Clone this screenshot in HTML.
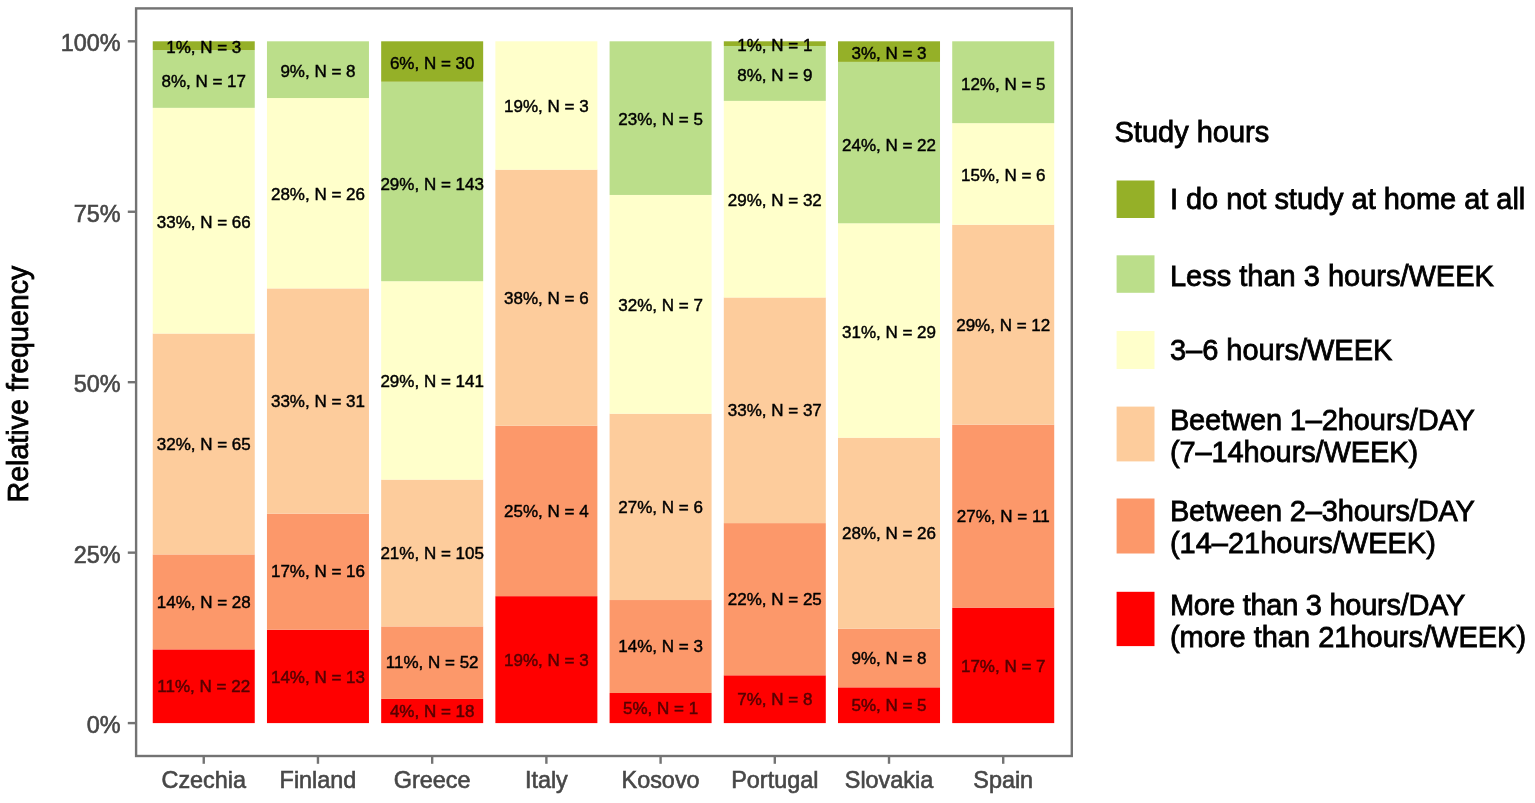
<!DOCTYPE html>
<html lang="en"><head><meta charset="utf-8"><title>Study hours</title>
<style>
html,body{margin:0;padding:0;background:#fff;}
body{width:1535px;height:803px;overflow:hidden;}
svg{display:block;font-family:"Liberation Sans", Arial, Helvetica, sans-serif;filter:blur(0.55px);}
.ax{font-size:23.4px;fill:#474747;stroke:#474747;stroke-width:0.6px;}
.ti{font-size:28.6px;fill:#000;stroke:#000;stroke-width:0.8px;}
.lb{font-size:17px;fill:#000;text-anchor:middle;stroke:#000;stroke-width:0.45px;filter:blur(0.55px);}
.lr{fill:#3a0000;stroke:#3a0000;stroke-width:0.5px;opacity:0.85;}
.lg{font-size:29.0px;fill:#000;stroke:#000;stroke-width:0.8px;}
</style></head><body>
<svg width="1535" height="803" viewBox="0 0 1535 803">
<rect width="1535" height="803" fill="#fff"/>
<rect x="152.75" y="649.38" width="102" height="73.72" fill="#FF0000"/>
<rect x="152.75" y="554.4" width="102" height="94.98" fill="#FC986A"/>
<rect x="152.75" y="333.52" width="102" height="220.88" fill="#FDCC9C"/>
<rect x="152.75" y="107.84" width="102" height="225.67" fill="#FFFFCB"/>
<rect x="152.75" y="50.08" width="102" height="57.76" fill="#BBDE8A"/>
<rect x="152.75" y="41.3" width="102" height="8.78" fill="#95B028"/>
<rect x="266.96" y="629.71" width="102" height="93.39" fill="#FF0000"/>
<rect x="266.96" y="513.66" width="102" height="116.05" fill="#FC986A"/>
<rect x="266.96" y="288.41" width="102" height="225.25" fill="#FDCC9C"/>
<rect x="266.96" y="98.03" width="102" height="190.38" fill="#FFFFCB"/>
<rect x="266.96" y="41.3" width="102" height="56.73" fill="#BBDE8A"/>
<rect x="381.17" y="698.9" width="102" height="24.2" fill="#FF0000"/>
<rect x="381.17" y="626.4" width="102" height="72.5" fill="#FC986A"/>
<rect x="381.17" y="479.6" width="102" height="146.8" fill="#FDCC9C"/>
<rect x="381.17" y="281.21" width="102" height="198.39" fill="#FFFFCB"/>
<rect x="381.17" y="81.73" width="102" height="199.48" fill="#BBDE8A"/>
<rect x="381.17" y="41.3" width="102" height="40.43" fill="#95B028"/>
<rect x="495.38" y="596.16" width="102" height="126.94" fill="#FF0000"/>
<rect x="495.38" y="425.71" width="102" height="170.45" fill="#FC986A"/>
<rect x="495.38" y="169.64" width="102" height="256.08" fill="#FDCC9C"/>
<rect x="495.38" y="41.3" width="102" height="128.34" fill="#FFFFCB"/>
<rect x="609.59" y="693.01" width="102" height="30.09" fill="#FF0000"/>
<rect x="609.59" y="600.04" width="102" height="92.97" fill="#FC986A"/>
<rect x="609.59" y="413.69" width="102" height="186.35" fill="#FDCC9C"/>
<rect x="609.59" y="194.95" width="102" height="218.74" fill="#FFFFCB"/>
<rect x="609.59" y="41.3" width="102" height="153.65" fill="#BBDE8A"/>
<rect x="723.8" y="675.3" width="102" height="47.8" fill="#FF0000"/>
<rect x="723.8" y="523.11" width="102" height="152.19" fill="#FC986A"/>
<rect x="723.8" y="297.47" width="102" height="225.64" fill="#FDCC9C"/>
<rect x="723.8" y="100.87" width="102" height="196.6" fill="#FFFFCB"/>
<rect x="723.8" y="45.99" width="102" height="54.89" fill="#BBDE8A"/>
<rect x="723.8" y="41.3" width="102" height="4.69" fill="#95B028"/>
<rect x="838.01" y="687.34" width="102" height="35.76" fill="#FF0000"/>
<rect x="838.01" y="628.69" width="102" height="58.65" fill="#FC986A"/>
<rect x="838.01" y="437.68" width="102" height="191.01" fill="#FDCC9C"/>
<rect x="838.01" y="223.28" width="102" height="214.4" fill="#FFFFCB"/>
<rect x="838.01" y="61.89" width="102" height="161.39" fill="#BBDE8A"/>
<rect x="838.01" y="41.3" width="102" height="20.59" fill="#95B028"/>
<rect x="952.22" y="607.6" width="102" height="115.5" fill="#FF0000"/>
<rect x="952.22" y="424.67" width="102" height="182.92" fill="#FC986A"/>
<rect x="952.22" y="224.72" width="102" height="199.95" fill="#FDCC9C"/>
<rect x="952.22" y="123.15" width="102" height="101.58" fill="#FFFFCB"/>
<rect x="952.22" y="41.3" width="102" height="81.85" fill="#BBDE8A"/>
<text class="lb lr" x="203.75" y="692.47">11%, N = 22</text>
<text class="lb" x="203.75" y="607.67">14%, N = 28</text>
<text class="lb" x="203.75" y="449.94">32%, N = 65</text>
<text class="lb" x="203.75" y="227.76">33%, N = 66</text>
<text class="lb" x="203.75" y="86.99">8%, N = 17</text>
<text class="lb" x="203.75" y="53.07">1%, N = 3</text>
<text class="lb lr" x="317.96" y="682.64">14%, N = 13</text>
<text class="lb" x="317.96" y="577.47">17%, N = 16</text>
<text class="lb" x="317.96" y="407.02">33%, N = 31</text>
<text class="lb" x="317.96" y="200.3">28%, N = 26</text>
<text class="lb" x="317.96" y="77">9%, N = 8</text>
<text class="lb lr" x="432.17" y="717.24">4%, N = 18</text>
<text class="lb" x="432.17" y="668.44">11%, N = 52</text>
<text class="lb" x="432.17" y="558.99">21%, N = 105</text>
<text class="lb" x="432.17" y="387.49">29%, N = 141</text>
<text class="lb" x="432.17" y="189.5">29%, N = 143</text>
<text class="lb" x="432.17" y="68.9">6%, N = 30</text>
<text class="lb lr" x="546.38" y="665.87">19%, N = 3</text>
<text class="lb" x="546.38" y="516.72">25%, N = 4</text>
<text class="lb" x="546.38" y="303.66">38%, N = 6</text>
<text class="lb" x="546.38" y="111.9">19%, N = 3</text>
<text class="lb lr" x="660.59" y="714.29">5%, N = 1</text>
<text class="lb" x="660.59" y="652.31">14%, N = 3</text>
<text class="lb" x="660.59" y="512.85">27%, N = 6</text>
<text class="lb" x="660.59" y="311.41">32%, N = 7</text>
<text class="lb" x="660.59" y="125.46">23%, N = 5</text>
<text class="lb lr" x="774.8" y="705.44">7%, N = 8</text>
<text class="lb" x="774.8" y="604.99">22%, N = 25</text>
<text class="lb" x="774.8" y="416.28">33%, N = 37</text>
<text class="lb" x="774.8" y="206.26">29%, N = 32</text>
<text class="lb" x="774.8" y="81.47">8%, N = 9</text>
<text class="lb" x="774.8" y="51.03">1%, N = 1</text>
<text class="lb lr" x="889.01" y="711.46">5%, N = 5</text>
<text class="lb" x="889.01" y="663.81">9%, N = 8</text>
<text class="lb" x="889.01" y="539.18">28%, N = 26</text>
<text class="lb" x="889.01" y="337.57">31%, N = 29</text>
<text class="lb" x="889.01" y="150.62">24%, N = 22</text>
<text class="lb" x="889.01" y="58.98">3%, N = 3</text>
<text class="lb lr" x="1003.22" y="671.58">17%, N = 7</text>
<text class="lb" x="1003.22" y="521.92">27%, N = 11</text>
<text class="lb" x="1003.22" y="330.68">29%, N = 12</text>
<text class="lb" x="1003.22" y="181.02">15%, N = 6</text>
<text class="lb" x="1003.22" y="89.56">12%, N = 5</text>
<rect x="136.1" y="8.4" width="935.7" height="747.6" fill="none" stroke="#737373" stroke-width="2.4"/>
<line x1="127.8" x2="136.1" y1="723.1" y2="723.1" stroke="#737373" stroke-width="2.4"/>
<text class="ax" text-anchor="end" x="120.6" y="732.98">0%</text>
<line x1="127.8" x2="136.1" y1="552.65" y2="552.65" stroke="#737373" stroke-width="2.4"/>
<text class="ax" text-anchor="end" x="120.6" y="562.53">25%</text>
<line x1="127.8" x2="136.1" y1="382.2" y2="382.2" stroke="#737373" stroke-width="2.4"/>
<text class="ax" text-anchor="end" x="120.6" y="392.08">50%</text>
<line x1="127.8" x2="136.1" y1="211.75" y2="211.75" stroke="#737373" stroke-width="2.4"/>
<text class="ax" text-anchor="end" x="120.6" y="221.63">75%</text>
<line x1="127.8" x2="136.1" y1="41.3" y2="41.3" stroke="#737373" stroke-width="2.4"/>
<text class="ax" text-anchor="end" x="120.6" y="51.18">100%</text>
<line x1="203.75" x2="203.75" y1="756.0" y2="763.8" stroke="#737373" stroke-width="2.4"/>
<text class="ax" text-anchor="middle" x="203.75" y="788">Czechia</text>
<line x1="317.96" x2="317.96" y1="756.0" y2="763.8" stroke="#737373" stroke-width="2.4"/>
<text class="ax" text-anchor="middle" x="317.96" y="788">Finland</text>
<line x1="432.17" x2="432.17" y1="756.0" y2="763.8" stroke="#737373" stroke-width="2.4"/>
<text class="ax" text-anchor="middle" x="432.17" y="788">Greece</text>
<line x1="546.38" x2="546.38" y1="756.0" y2="763.8" stroke="#737373" stroke-width="2.4"/>
<text class="ax" text-anchor="middle" x="546.38" y="788">Italy</text>
<line x1="660.59" x2="660.59" y1="756.0" y2="763.8" stroke="#737373" stroke-width="2.4"/>
<text class="ax" text-anchor="middle" x="660.59" y="788">Kosovo</text>
<line x1="774.8" x2="774.8" y1="756.0" y2="763.8" stroke="#737373" stroke-width="2.4"/>
<text class="ax" text-anchor="middle" x="774.8" y="788">Portugal</text>
<line x1="889.01" x2="889.01" y1="756.0" y2="763.8" stroke="#737373" stroke-width="2.4"/>
<text class="ax" text-anchor="middle" x="889.01" y="788">Slovakia</text>
<line x1="1003.22" x2="1003.22" y1="756.0" y2="763.8" stroke="#737373" stroke-width="2.4"/>
<text class="ax" text-anchor="middle" x="1003.22" y="788">Spain</text>
<text class="ti" text-anchor="middle" transform="translate(27.9,384.1) rotate(-90)">Relative frequency</text>
<text class="lg" x="1114.5" y="141.9">Study hours</text>
<rect x="1116.6" y="180.5" width="37.9" height="37.5" fill="#95B028"/>
<text class="lg" x="1169.9" y="208.93" style="letter-spacing:-0.032px">I do not study at home at all</text>
<rect x="1116.6" y="255.3" width="37.9" height="37.5" fill="#BBDE8A"/>
<text class="lg" x="1169.9" y="285.93">Less than 3 hours/WEEK</text>
<rect x="1116.6" y="331.0" width="37.9" height="38.0" fill="#FFFFCB"/>
<text class="lg" x="1169.9" y="360.38">3–6 hours/WEEK</text>
<rect x="1116.6" y="406.6" width="37.9" height="54.8" fill="#FDCC9C"/>
<text class="lg" x="1169.9" y="429.88" style="letter-spacing:-0.121px">Beetwen 1–2hours/DAY</text>
<text class="lg" x="1169.9" y="461.88" style="letter-spacing:-0.100px">(7–14hours/WEEK)</text>
<rect x="1116.6" y="498.5" width="37.9" height="55.0" fill="#FC986A"/>
<text class="lg" x="1169.9" y="521.38" style="letter-spacing:-0.121px">Between 2–3hours/DAY</text>
<text class="lg" x="1169.9" y="553.38">(14–21hours/WEEK)</text>
<rect x="1116.6" y="591.8" width="37.9" height="54.3" fill="#FF0000"/>
<text class="lg" x="1169.9" y="614.83" style="letter-spacing:-0.270px">More than 3 hours/DAY</text>
<text class="lg" x="1169.9" y="646.83">(more than 21hours/WEEK)</text>
</svg></body></html>
